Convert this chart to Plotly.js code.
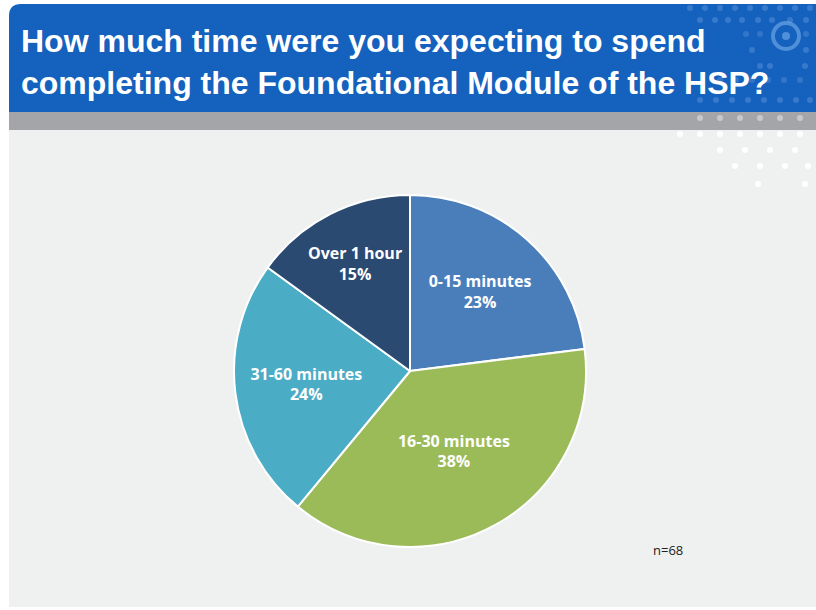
<!DOCTYPE html>
<html>
<head>
<meta charset="utf-8">
<script src="https://cdn.plot.ly/plotly-3.0.1.min.js"></script>
<style>html,body{margin:0;padding:0;background:#fff;}#chart{width:816px;height:610px;}</style>
</head>
<body>
<div id="chart"></div>
<script>
const categories = ["0-15 minutes", "16-30 minutes", "31-60 minutes", "Over 1 hour"];
const percentValues = [23, 38, 24, 15];
const sliceColors = ["#4A7EBB", "#9BBB59", "#4BACC6", "#2B4A72"];
const titleLines = ["How much time were you expecting to spend", "completing the Foundational Module of the HSP?"];
const noteText = "n=68";

const W = 816, H = 610;
const px = x => x / W;
const py = y => 1 - y / H;

const shapes = [
  {type:"rect", xref:"paper", yref:"paper", x0:px(9), x1:1, y0:py(607), y1:py(130), fillcolor:"#EFF1F1", line:{width:0}, layer:"below"},
  {type:"path", xref:"paper", yref:"paper",
   path:`M ${px(9)},${py(112)} L ${px(9)},${py(16)} Q ${px(9)},${py(4)} ${px(21)},${py(4)} L 1,${py(4)} L 1,${py(112)} Z`,
   fillcolor:"#1461BE", line:{width:0}, layer:"below"},
  {type:"rect", xref:"paper", yref:"paper", x0:px(9), x1:1, y0:py(130), y1:py(112), fillcolor:"#A3A5A8", line:{width:0}, layer:"below"}
];

// decorative dot pattern (top-right)
const dotRows = [
  {y:8, xs:[690,705,720,735,750,765,780,795,810], c:"rgba(120,170,230,0.35)"},
  {y:20, xs:[700,715,728,742,758,772,790,806], c:"rgba(120,170,230,0.35)"},
  {y:34, xs:[746,760,806], c:"rgba(120,170,230,0.3)"},
  {y:50, xs:[752,806], c:"rgba(120,170,230,0.35)"},
  {y:66, xs:[760,770,805], c:"rgba(120,170,230,0.35)"},
  {y:80, xs:[720,736,752,768,784,800], c:"rgba(120,170,230,0.3)"},
  {y:100, xs:[700,716,732,748,764,780,796,810], c:"rgba(120,170,230,0.35)"},
  {y:118, xs:[700,720,740,760,780,800], c:"rgba(235,235,240,0.5)"},
  {y:134, xs:[680,700,720,740,760,780,800], c:"rgba(255,255,255,0.95)"},
  {y:150, xs:[720,745,770,795], c:"rgba(255,255,255,0.95)"},
  {y:166, xs:[735,760,785,808], c:"rgba(255,255,255,0.95)"},
  {y:184, xs:[758,805], c:"rgba(255,255,255,0.95)"}
];
dotRows.forEach(r => r.xs.forEach(x => {
  shapes.push({type:"circle", xref:"paper", yref:"paper", x0:px(x-3), x1:px(x+3), y0:py(r.y+3), y1:py(r.y-3), fillcolor:r.c, line:{width:0}, layer:"below"});
}));
shapes.push({type:"circle", xref:"paper", yref:"paper", x0:px(773), x1:px(799), y0:py(49), y1:py(23), fillcolor:"rgba(0,0,0,0)", line:{color:"rgba(120,175,235,0.6)", width:4}, layer:"below"});
shapes.push({type:"circle", xref:"paper", yref:"paper", x0:px(782), x1:px(790), y0:py(40), y1:py(32), fillcolor:"rgba(120,175,235,0.6)", line:{width:0}, layer:"below"});

const cx = 410, cy = 371, r = 176;
const data = [{
  type:"pie",
  labels: categories,
  values: percentValues,
  sort:false,
  direction:"clockwise",
  rotation:0,
  marker:{colors:sliceColors, line:{color:"#FFFFFF", width:2}},
  texttemplate:"%{label}<br>%{value}%",
  textposition:"inside",
  insidetextorientation:"horizontal",
  textfont:{family:"Open Sans, Lato, sans-serif", size:16, color:"#FFFFFF", weight:"bold"},
  hoverinfo:"skip",
  showlegend:false,
  domain:{x:[px(cx-r), px(cx+r)], y:[py(cy+r), py(cy-r)]}
}];

const titleFont = {family:"Liberation Sans, Arial, sans-serif", size:32, color:"#FFFFFF", weight:"bold"};
const layout = {
  width:W, height:H,
  margin:{l:0, r:0, t:0, b:0},
  paper_bgcolor:"#FFFFFF",
  plot_bgcolor:"rgba(0,0,0,0)",
  shapes: shapes,
  annotations:[
    {xref:"paper", yref:"paper", x:px(19), y:py(62), xanchor:"left", yanchor:"middle", align:"left",
     text:titleLines.join("<br>"), showarrow:false, font:titleFont},
    {xref:"paper", yref:"paper", x:px(651), y:py(550), xanchor:"left", yanchor:"middle",
     text:noteText, showarrow:false,
     font:{family:"Open Sans, sans-serif", size:13, color:"#222222"}}
  ]
};

Plotly.newPlot("chart", data, layout, {staticPlot:true});
</script>
</body>
</html>
